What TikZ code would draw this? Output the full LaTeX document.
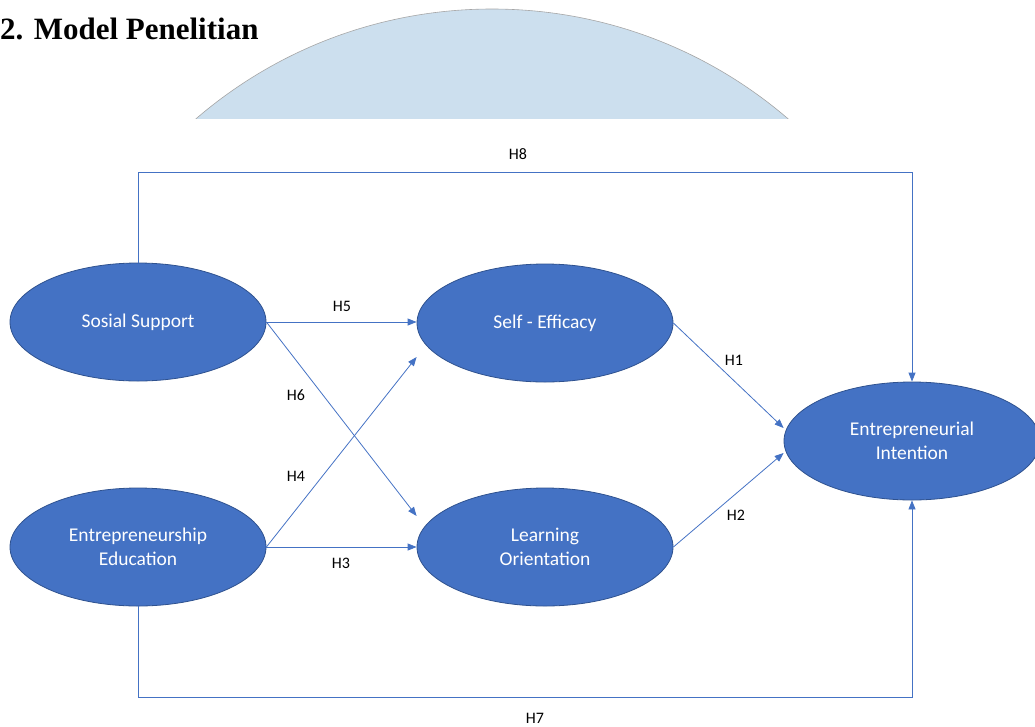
\documentclass[tikz,border=0pt]{standalone}
\usepackage{fontspec}
\setmainfont{Carlito}
\newfontfamily\titlefont{Liberation Serif}
\usetikzlibrary{arrows.meta,shapes.geometric}
\definecolor{varfill}{RGB}{68,114,196}
\definecolor{varline}{RGB}{47,82,143}
\definecolor{arcfill}{RGB}{204,223,238}
\tikzset{
  var/.style={ellipse,draw=varline,line width=.8pt,fill=varfill,text=white,
    minimum width=256pt,minimum height=118pt,inner sep=0pt,align=center,
    font=\fontsize{19.5}{24}\selectfont},
  hyp/.style={inner sep=0pt,font=\fontsize{16}{19}\selectfont},
  link/.style={draw=varfill,line width=.8pt,-{Triangle[length=9pt,width=7pt]}}
}
\begin{document}
\begin{tikzpicture}[x=1pt,y=-1pt]
\useasboundingbox (0,0) rectangle (1035,726);
\begin{scope}
  \clip (0,0) rectangle (1035,118);
  \draw[fill=arcfill,draw=gray!70,line width=.6pt] (492,463) circle[radius=454pt];
\end{scope}
\node[anchor=base west,inner sep=0pt,font=\titlefont\bfseries\fontsize{31}{36}\selectfont] (title) at (0,39) {2. Model Penelitian};

\node[var] (ss) at (138,322) {Sosial Support};
\node[var] (ee) at (138,547) {Entrepreneurship\\Education};
\node[var] (se) at (545,323) {Self - Efficacy};
\node[var] (lo) at (545,547) {Learning\\Orientation};
\node[var] (ei) at (912,441) {Entrepreneurial\\Intention};
\coordinate (h8) at (0,172); \coordinate (h7) at (0,697);

\draw[link] (ss.east) -- (ss.east -| se.west);
\draw[link] (ss.east) -- ([yshift=31pt]lo.west);
\draw[link] (ee.east) -- ([yshift=-34pt]se.west);
\draw[link] (ee.east) -- (ee.east -| lo.west);
\draw[link] (se.east) -- ([yshift=13pt]ei.west);
\draw[link] (lo.east) -- ([yshift=-12pt]ei.west);
\draw[link] (ss.north) |- (ei.north |- h8) -- (ei.north);
\draw[link] (ee.south) |- (ei.south |- h7) -- (ei.south);

\node[hyp] (l1) at (734,360) {H1};
\node[hyp] (l2) at (736,515) {H2};
\node[hyp] (l3) at (341,563) {H3};
\node[hyp] (l4) at (296,476) {H4};
\node[hyp] (l5) at (342,306) {H5};
\node[hyp] (l6) at (296,395) {H6};
\node[hyp] (l7) at (535,718) {H7};
\node[hyp] (l8) at (518,154) {H8};
\end{tikzpicture}
\end{document}
